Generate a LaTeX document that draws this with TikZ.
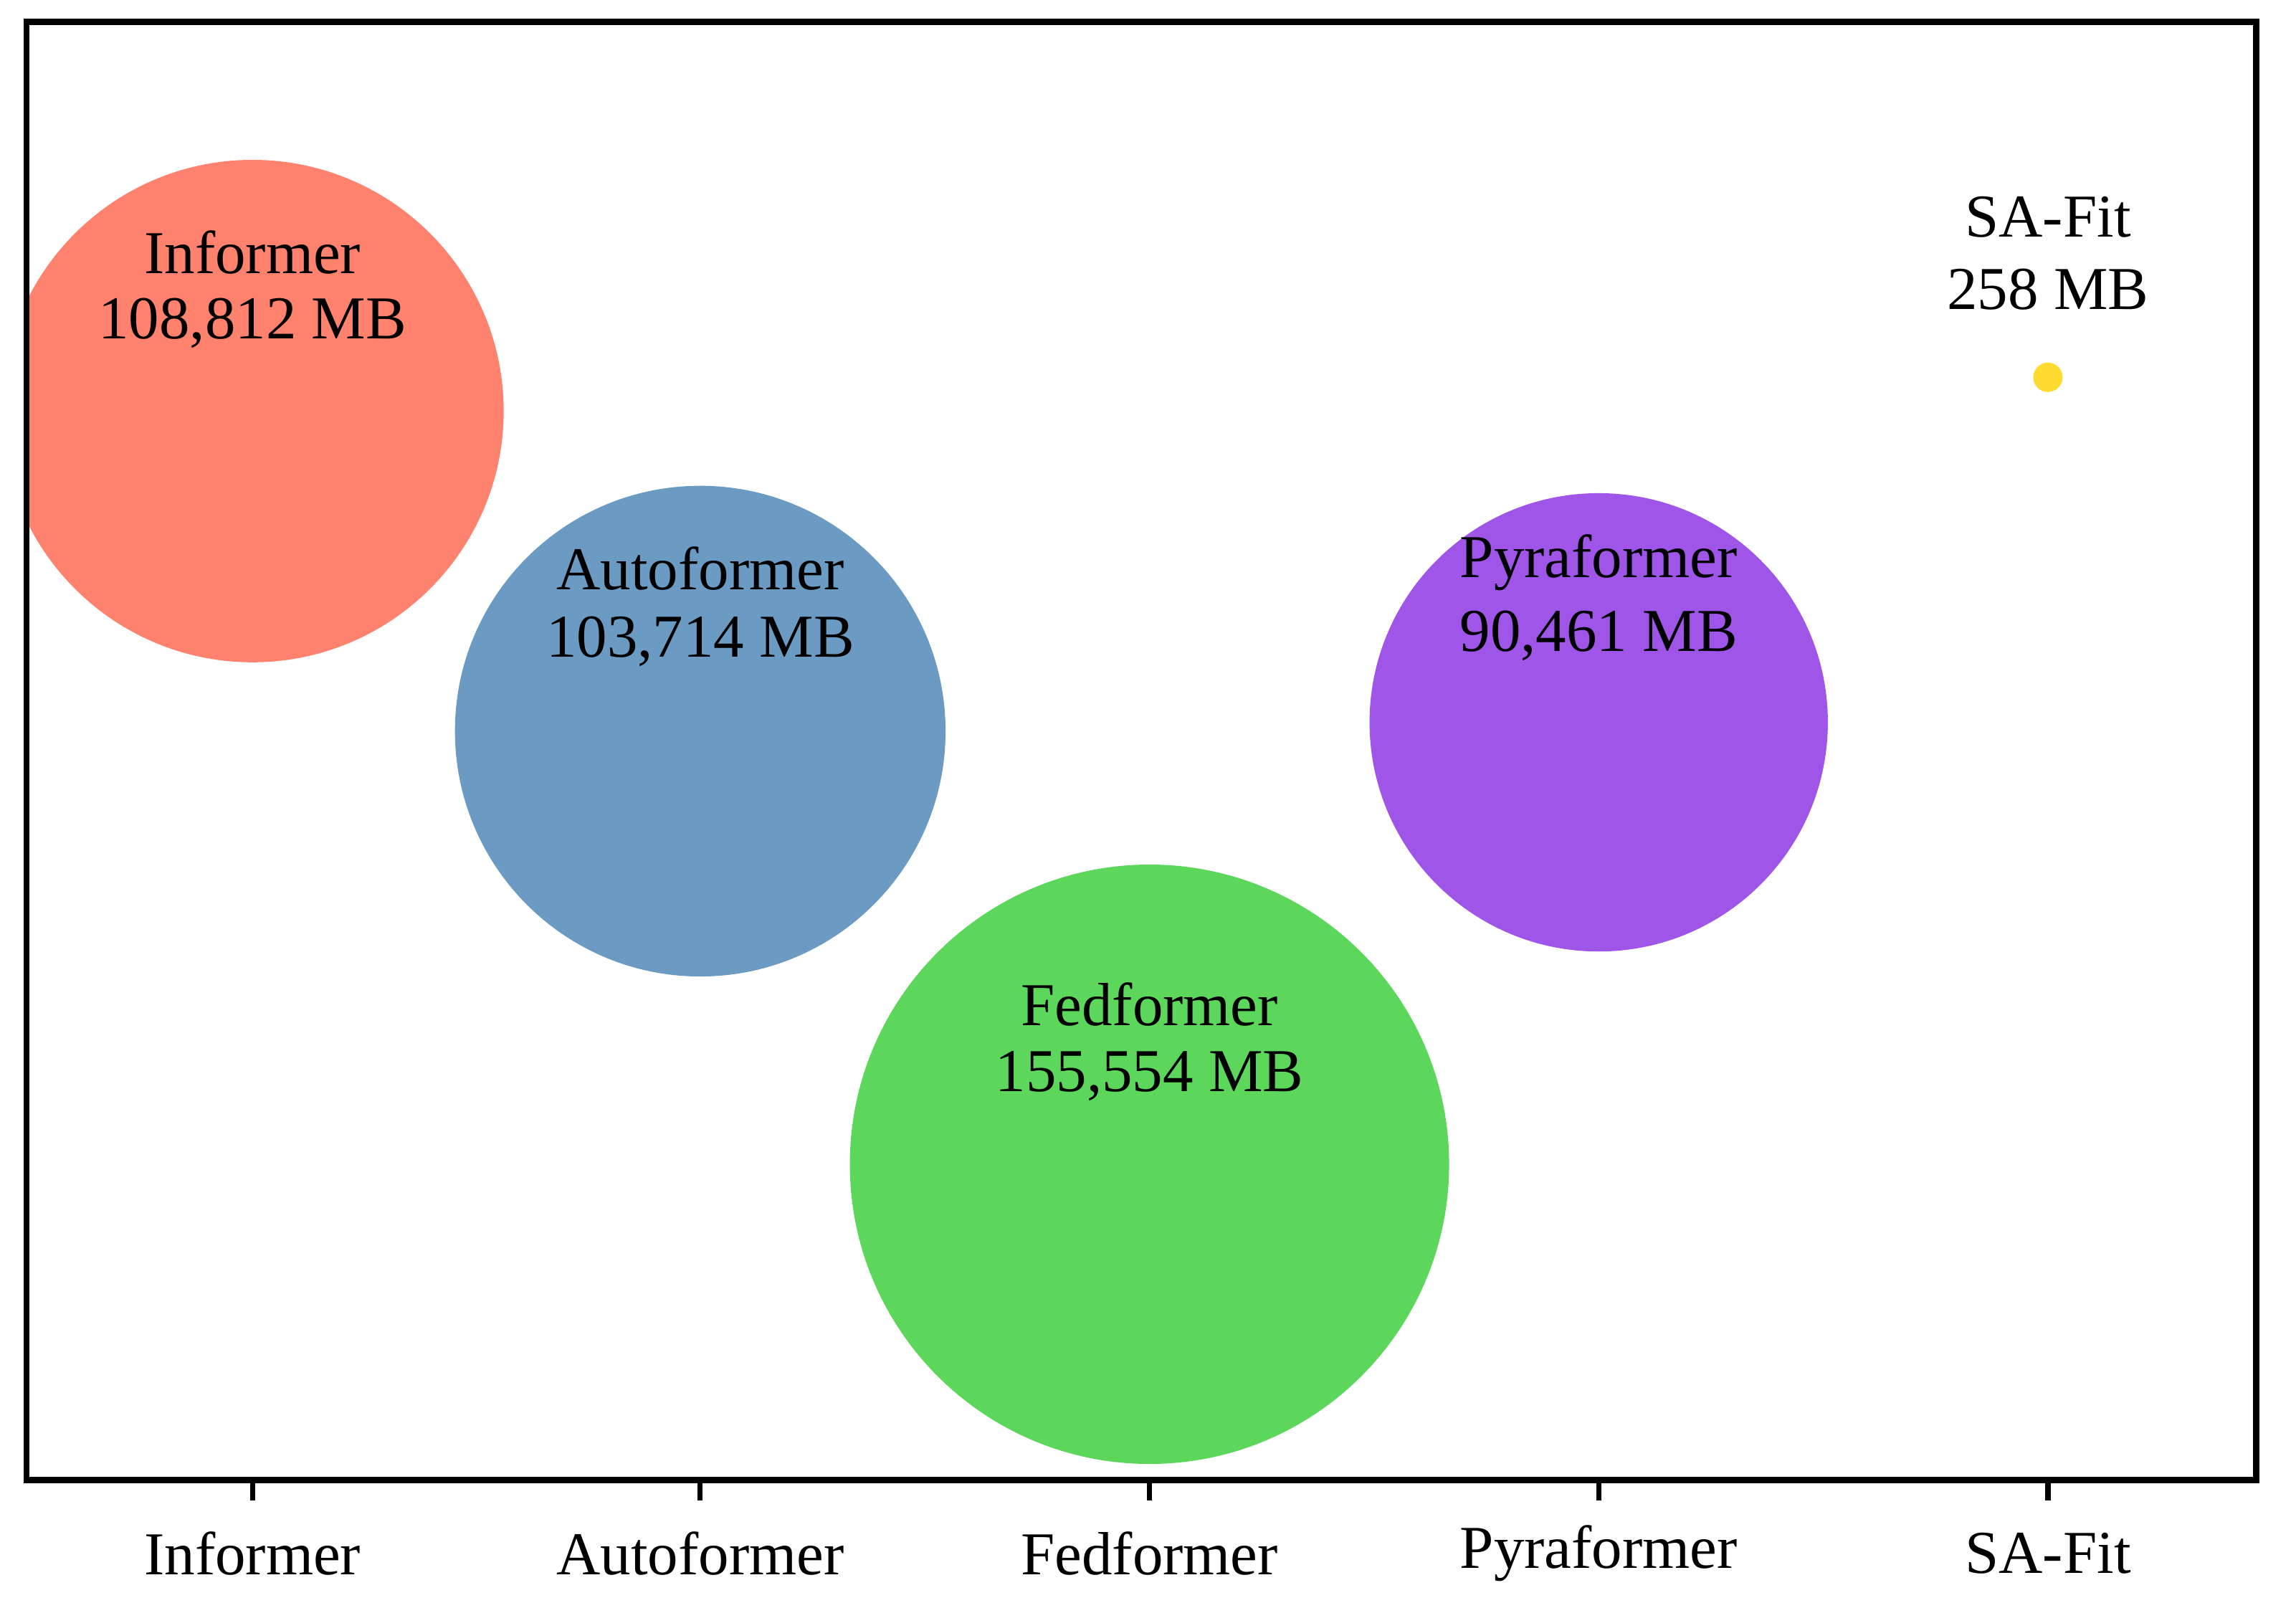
\documentclass[tikz,border=0pt]{standalone}
\usepackage{fontspec}
\setmainfont{Liberation Serif}
\usepackage{tikz}
\usetikzlibrary{calc}
\definecolor{infc}{HTML}{FF826E}
\definecolor{autc}{HTML}{6B9BC3}
\definecolor{fedc}{HTML}{5CD75C}
\definecolor{pyrc}{HTML}{9F55E8}
\definecolor{safc}{HTML}{FDDB30}
\begin{document}
\begin{tikzpicture}[x=0.01cm,y=-0.01cm,
  lbl/.style={font=\fontsize{11.8}{14}\selectfont,inner sep=0pt}]
     \useasboundingbox (0,0) rectangle (1564,1095);
     %bubbles
     \begin{scope}
     \clip (18,15) rectangle (1537,1008);
     \fill[infc] (172,280) circle [radius=1.71cm];
     \fill[autc] (477,498) circle [radius=1.67cm];
     \fill[fedc] (783,793) circle [radius=2.04cm];
     \fill[pyrc] (1089,492) circle [radius=1.56cm];
     \fill[safc] (1395,257) circle [radius=0.1cm];
     \end{scope}
     \node[lbl] (inf1) at (172,172) {Informer};
     \node[lbl] (inf2) at (172,220) {108,812 MB};
     \node[lbl] (aut1) at (477,387) {Autoformer};
     \node[lbl] (aut2) at (477,437) {103,714 MB};
     \node[lbl] (fed1) at (783,684) {Fedformer};
     \node[lbl] (fed2) at (783,733) {155,554 MB};
     \node[lbl] (pyr1) at (1089,383) {Pyraformer};
     \node[lbl] (pyr2) at (1089,433) {90,461 MB};
     \node[lbl] (saf1) at (1395,148) {SA-Fit};
     \node[lbl] (saf2) at (1395,197) {258 MB};
     %axes
     \draw[line width=1.2pt] (18,15) rectangle (1537,1008);
     \foreach \x/\t in {172/Informer,477/Autoformer,783/Fedformer,1089/Pyraformer,1395/SA-Fit}  {
     	\draw[line width=1pt] (\x,1008) -- (\x,1022);
     	\node[lbl] () at (\x,1058) {\t};
     }
\end{tikzpicture}
\end{document}
